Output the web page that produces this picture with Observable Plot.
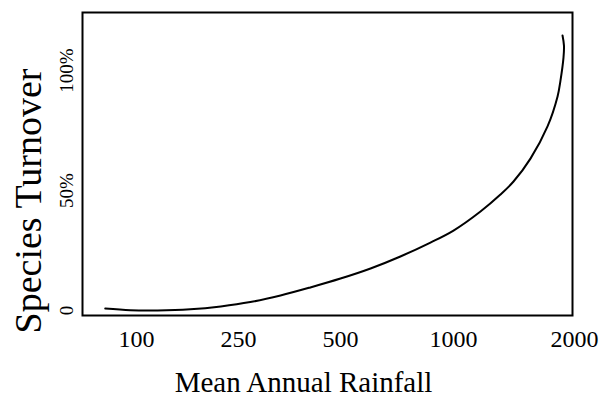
<!DOCTYPE html>
<html>
<head>
<meta charset="utf-8">
<script src="https://cdn.jsdelivr.net/npm/d3@7"></script>
<script src="https://cdn.jsdelivr.net/npm/@observablehq/plot@0.6"></script>
<style>
  html, body { margin: 0; padding: 0; background: #fff; }
  #chart svg { display: block; }
</style>
</head>
<body>
<div id="chart"></div>
<script>
// Rainfall tick values (mm) and their labels
const xTicks = [100, 250, 500, 1000, 2000];
const xTickLabels = ["100", "250", "500", "1000", "2000"];
// Axis positions of the rainfall ticks (irregular spacing as in the source axis)
const xTickRange = [136, 238, 340, 453, 574];

const yTicks = [0, 0.5, 1.0];
const yTickLabels = ["0", "50%", "100%"];

// Fitted turnover curve: rainfall (mm) and turnover (fraction)
const rainfall = [54, 91, 131, 179, 224, 279, 353, 426, 500, 633, 765, 898, 1000, 1223, 1388, 1496, 1636, 1777, 1860, 1884, 1909, 1913, 1901];
const turnover = [0.008, 0.001, 0.0, 0.005, 0.017, 0.035, 0.0625, 0.096, 0.133, 0.175, 0.225, 0.283, 0.333, 0.4125, 0.483, 0.5375, 0.633, 0.767, 0.892, 0.958, 1.054, 1.104, 1.146];

const curve = rainfall.map((r, i) => ({rainfall: r, turnover: turnover[i]}));

const font = "'Liberation Serif', 'Times New Roman', serif";

const chart = Plot.plot({
  width: 611,
  height: 403,
  marginLeft: 82,
  marginRight: 39,
  marginTop: 12,
  marginBottom: 88,
  style: {fontFamily: font, background: "#fff", color: "#000"},
  x: {type: "linear", domain: xTicks, range: xTickRange, axis: null},
  y: {domain: [-0.021, 1.242], axis: null},
  marks: [
    Plot.frame({stroke: "#000", strokeWidth: 2}),
    Plot.line(curve, {x: "rainfall", y: "turnover", curve: "catmull-rom", stroke: "#000", strokeWidth: 2}),
    Plot.text(xTicks, {x: d => d, frameAnchor: "bottom", dy: 31, text: (d, i) => xTickLabels[i], fontSize: 24, fill: "#000"}),
    Plot.text(yTicks, {y: d => d, frameAnchor: "left", dx: -16, rotate: -90, textAnchor: "middle", text: (d, i) => yTickLabels[i], fontSize: 19, fill: "#000"}),
    Plot.text(["Mean Annual Rainfall"], {frameAnchor: "bottom", dx: -24, dy: 76, textAnchor: "middle", fontSize: 29, fill: "#000"}),
    Plot.text(["Species Turnover"], {frameAnchor: "left", dx: -54, dy: 37, rotate: -90, textAnchor: "middle", fontSize: 38, fill: "#000"})
  ]
});
document.getElementById("chart").appendChild(chart);
</script>
</body>
</html>
